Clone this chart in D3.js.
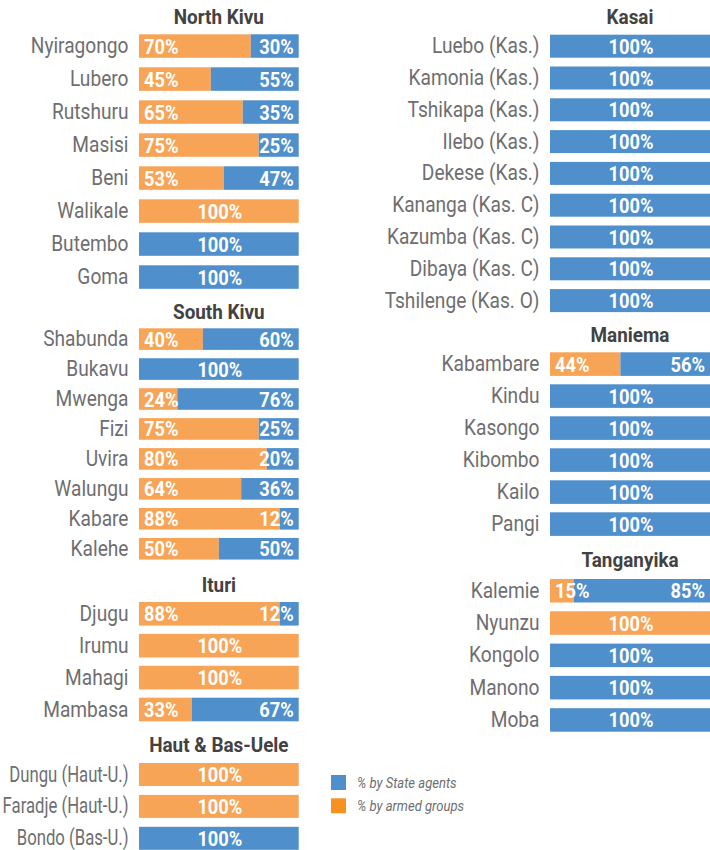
<!DOCTYPE html>
<html>
<head>
<meta charset="utf-8">
<script src="https://cdn.jsdelivr.net/npm/d3@7"></script>
<style>
  body { margin: 0; background: #fff; }
  text { font-family: Roboto, "Noto Sans", sans-serif; }
</style>
</head>
<body>
<div id="vis"></div>
<script>
// % by armed groups / % by State agents, per territory
const northKivuSites = ['Nyiragongo', 'Lubero', 'Rutshuru', 'Masisi', 'Beni', 'Walikale', 'Butembo', 'Goma'];
const northKivuArmed = [70, 45, 65, 75, 53, 100, 0, 0];
const northKivuState = [30, 55, 35, 25, 47, 0, 100, 100];

const southKivuSites = ['Shabunda', 'Bukavu', 'Mwenga', 'Fizi', 'Uvira', 'Walungu', 'Kabare', 'Kalehe'];
const southKivuArmed = [40, 0, 24, 75, 80, 64, 88, 50];
const southKivuState = [60, 100, 76, 25, 20, 36, 12, 50];

const ituriSites = ['Djugu', 'Irumu', 'Mahagi', 'Mambasa'];
const ituriArmed = [88, 100, 100, 33];
const ituriState = [12, 0, 0, 67];

const ueleSites = ['Dungu (Haut-U.)', 'Faradje (Haut-U.)', 'Bondo (Bas-U.)'];
const ueleArmed = [100, 100, 0];
const ueleState = [0, 0, 100];

const kasaiSites = ['Luebo (Kas.)', 'Kamonia (Kas.)', 'Tshikapa (Kas.)', 'Ilebo (Kas.)', 'Dekese (Kas.)',
  'Kananga (Kas. C)', 'Kazumba (Kas. C)', 'Dibaya (Kas. C)', 'Tshilenge (Kas. O)'];
const kasaiArmed = [0, 0, 0, 0, 0, 0, 0, 0, 0];
const kasaiState = [100, 100, 100, 100, 100, 100, 100, 100, 100];

const maniemaSites = ['Kabambare', 'Kindu', 'Kasongo', 'Kibombo', 'Kailo', 'Pangi'];
const maniemaArmed = [44, 0, 0, 0, 0, 0];
const maniemaState = [56, 100, 100, 100, 100, 100];

const tanganyikaSites = ['Kalemie', 'Nyunzu', 'Kongolo', 'Manono', 'Moba'];
const tanganyikaArmed = [15, 100, 0, 0, 0];
const tanganyikaState = [85, 0, 100, 100, 100];

const legendLabels = ['% by State agents', '% by armed groups'];

const orange = '#f8a456';
const blue = '#4f8fcc';
const legendColors = [blue, '#f7921f'];

const width = 710;
const height = 850;

const svg = d3.select('#vis')
  .append('svg')
  .attr('width', width)
  .attr('height', height);

// column x scales
const xLeft = d3.scaleLinear().domain([0, 100]).range([139, 298.7]);
const xRight = d3.scaleLinear().domain([0, 100]).range([550, 710]);

// layout for each panel: title baseline, first bar top, row step, bar height
const panels = [
  {title: 'North Kivu', sites: northKivuSites, armed: northKivuArmed, state: northKivuState, x: xLeft, titleY: 23.5, top: 34.3, step: 33, bar: 23.5},
  {title: 'South Kivu', sites: southKivuSites, armed: southKivuArmed, state: southKivuState, x: xLeft, titleY: 319, top: 328.3, step: 29.95, bar: 21.6},
  {title: 'Ituri', sites: ituriSites, armed: ituriArmed, state: ituriState, x: xLeft, titleY: 592, top: 602, step: 31.9, bar: 23.6},
  {title: 'Haut & Bas-Uele', sites: ueleSites, armed: ueleArmed, state: ueleState, x: xLeft, titleY: 751.7, top: 763, step: 31.9, bar: 23, labelSx: 0.76},
  {title: 'Kasai', sites: kasaiSites, armed: kasaiArmed, state: kasaiState, x: xRight, titleY: 23.5, top: 34.7, step: 31.8, bar: 23},
  {title: 'Maniema', sites: maniemaSites, armed: maniemaArmed, state: maniemaState, x: xRight, titleY: 341.7, top: 352.3, step: 32, bar: 23.6},
  {title: 'Tanganyika', sites: tanganyikaSites, armed: tanganyikaArmed, state: tanganyikaState, x: xRight, titleY: 566.7, top: 579, step: 32.3, bar: 23.5}
];

// condensed look: squeeze Roboto horizontally
function addText(g, x, y, str, opts) {
  return g.append('text')
    .attr('transform', `translate(${x},${y}) scale(${opts.sx || 0.87},1)`)
    .attr('text-anchor', opts.anchor || 'start')
    .style('font-size', opts.size + 'px')
    .style('font-weight', opts.weight || 400)
    .style('font-style', opts.italic ? 'italic' : 'normal')
    .style('fill', opts.fill)
    .text(str);
}

panels.forEach(p => {
  const g = svg.append('g');
  const n = p.sites.length;
  const gap = p.step - p.bar;
  const y = d3.scaleBand()
    .domain(p.sites)
    .range([p.top - gap / 2, p.top - gap / 2 + n * p.step])
    .paddingInner(gap / p.step)
    .paddingOuter(gap / (2 * p.step));

  const x = p.x;
  const [x0, x1] = x.range();
  const rows = p.sites.map((s, i) => ({site: s, armed: p.armed[i], state: p.state[i]}));

  addText(g, (x0 + x1) / 2, p.titleY, p.title, {size: 21, weight: 700, fill: '#424242', anchor: 'middle', sx: 0.9});

  // armed groups segment, then State agents segment
  g.selectAll('.armed')
    .data(rows.filter(d => d.armed > 0))
    .join('rect')
    .attr('class', 'armed')
    .attr('x', x(0))
    .attr('y', d => y(d.site))
    .attr('width', d => x(d.armed) - x(0))
    .attr('height', y.bandwidth())
    .style('fill', orange);

  g.selectAll('.state')
    .data(rows.filter(d => d.state > 0))
    .join('rect')
    .attr('class', 'state')
    .attr('x', d => x(d.armed))
    .attr('y', d => y(d.site))
    .attr('width', d => x(d.armed + d.state) - x(d.armed))
    .attr('height', y.bandwidth())
    .style('fill', blue);

  rows.forEach(d => {
    const cy = y(d.site) + y.bandwidth() / 2;
    addText(g, x0 - 10.5, cy + 7, d.site, {size: 22, fill: '#6e6e70', anchor: 'end', sx: p.labelSx});

    const vy = cy + 7.5;
    if (d.armed > 0 && d.state > 0) {
      addText(g, x0 + 5, vy, d.armed + '%', {size: 21, weight: 700, fill: '#fff'});
      addText(g, x1 - 5, vy, d.state + '%', {size: 21, weight: 700, fill: '#fff', anchor: 'end'});
    } else {
      addText(g, (x0 + x1) / 2 + 1, vy, '100%', {size: 21, weight: 700, fill: '#fff', anchor: 'middle'});
    }
  });
});

// legend
const legend = svg.append('g');
legendLabels.forEach((label, i) => {
  legend.append('rect')
    .attr('x', 331)
    .attr('y', 775 + i * 23.3)
    .attr('width', 15)
    .attr('height', 15)
    .style('fill', legendColors[i]);
  addText(legend, 357, 787.5 + i * 23.3, label, {size: 15, italic: true, fill: '#6e6e70'});
});
</script>
</body>
</html>
